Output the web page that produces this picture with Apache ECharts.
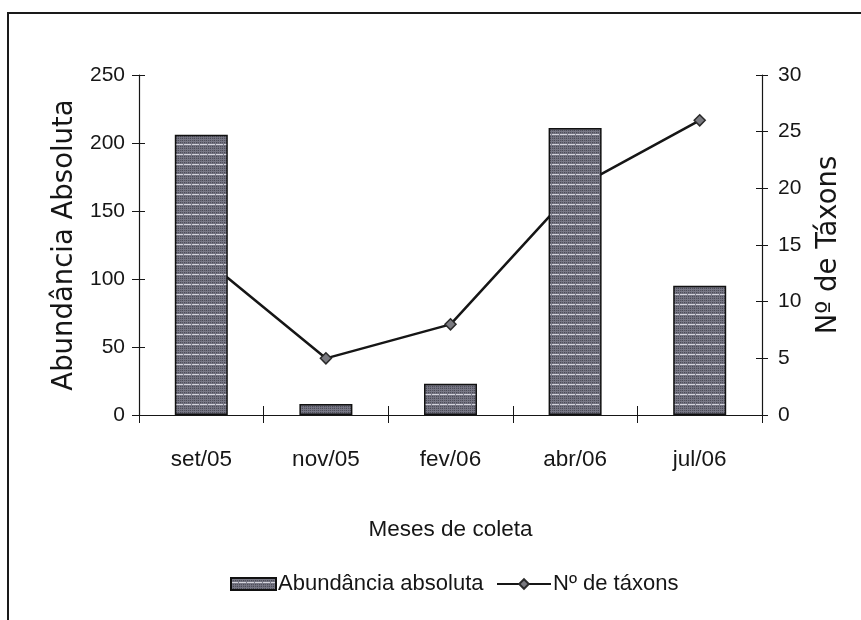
<!DOCTYPE html>
<html>
<head>
<meta charset="utf-8">
<script src="https://cdn.jsdelivr.net/npm/echarts@6/dist/echarts.min.js"></script>
<style>
  html, body { margin: 0; padding: 0; background: #fff; }
  #chart { width: 861px; height: 620px; }
</style>
</head>
<body>
<div id="chart"></div>
<script>
// Collection months
const months = ['set/05', 'nov/05', 'fev/06', 'abr/06', 'jul/06'];
// Absolute abundance per month (left axis)
const abundance = [206, 8, 23, 211, 95];
// Number of taxa per month (right axis)
const taxa = [14, 5, 8, 20, 26];
// Axis ticks
const leftTicks = { min: 0, max: 250, interval: 50 };
const rightTicks = { min: 0, max: 30, interval: 5 };

const sans = '"Liberation Sans", Arial, sans-serif';
const wide = '"DejaVu Sans", sans-serif';
const ink = '#161616';

// Striped grey texture for the bars
function makeTexture() {
  const c = document.createElement('canvas');
  c.width = 8; c.height = 10;
  const g = c.getContext('2d');
  g.fillStyle = '#5f5f6c';
  g.fillRect(0, 0, 8, 10);
  const shades = ['#53535e', '#777785', '#4a4a55', '#6c6c7a'];
  for (let y = 0; y < 10; y++) {
    for (let x = 0; x < 8; x++) {
      g.fillStyle = shades[(x * 3 + y * 5 + x * y) % 4];
      g.fillRect(x, y, 1, 1);
    }
  }
  g.fillStyle = '#d4d4dc';
  g.fillRect(0, 4, 7, 1);
  return c;
}
const texture = makeTexture();

const chart = echarts.init(document.getElementById('chart'), null, { renderer: 'canvas' });

const baseX = {
  type: 'category',
  data: months,
  boundaryGap: true,
  axisLine: { lineStyle: { color: ink, width: 1.2 } },
  splitLine: { show: false }
};

chart.setOption({
  backgroundColor: '#ffffff',
  animation: false,
  grid: { left: 139, right: 99, top: 75, bottom: 205 },
  graphic: [{
    type: 'rect',
    shape: { x: 8, y: 13, width: 900, height: 700 },
    style: { fill: 'none', stroke: '#1a1a1a', lineWidth: 2 },
    silent: true
  }],
  legend: [{
    left: 225, top: 568,
    itemWidth: 45, itemHeight: 12, itemGap: 6,
    data: [{ name: 'Abundância absoluta', icon: 'rect' }],
    textStyle: { fontFamily: sans, fontSize: 22, color: ink, padding: [0, 0, 0, -3] }
  }, {
    left: 491, top: 568,
    itemWidth: 54, itemHeight: 12, itemGap: 4,
    data: ['Nº de táxons'],
    textStyle: { fontFamily: sans, fontSize: 22, color: ink, padding: [0, 0, 0, -3] }
  }],
  xAxis: [Object.assign({}, baseX, {
    axisTick: { show: true, inside: false, length: 8, lineStyle: { color: ink } },
    axisLabel: { fontFamily: sans, fontSize: 22.5, color: ink, margin: 33 },
    name: 'Meses de coleta',
    nameLocation: 'middle',
    nameGap: 103,
    nameTextStyle: { fontFamily: sans, fontSize: 22.5, color: ink }
  }), Object.assign({}, baseX, {
    position: 'bottom',
    axisTick: { show: true, inside: true, length: 9, lineStyle: { color: ink } },
    axisLabel: { show: false }
  })],
  yAxis: [{
    type: 'value',
    min: leftTicks.min, max: leftTicks.max, interval: leftTicks.interval,
    position: 'left',
    axisLine: { show: true, lineStyle: { color: ink, width: 1.2 } },
    axisTick: { show: true, inside: false, length: 7, lineStyle: { color: ink } },
    splitLine: { show: false },
    axisLabel: { fontFamily: sans, fontSize: 21, color: ink, margin: 14 },
    name: 'Abundância Absoluta',
    nameLocation: 'middle',
    nameGap: 58,
    nameTextStyle: { fontFamily: wide, fontSize: 27.5, color: ink }
  }, {
    type: 'value',
    min: rightTicks.min, max: rightTicks.max, interval: rightTicks.interval,
    position: 'right',
    axisLine: { show: true, lineStyle: { color: ink, width: 1.2 } },
    axisTick: { show: true, inside: false, length: 6, lineStyle: { color: ink } },
    splitLine: { show: false },
    axisLabel: { fontFamily: sans, fontSize: 21, color: ink, margin: 16 },
    name: 'Nº de Táxons',
    nameLocation: 'middle',
    nameGap: 53,
    nameRotate: 90,
    nameTextStyle: { fontFamily: wide, fontSize: 27.5, color: ink }
  }, {
    type: 'value',
    min: leftTicks.min, max: leftTicks.max, interval: leftTicks.interval,
    position: 'left',
    axisLine: { show: false },
    axisTick: { show: true, inside: true, length: 6, lineStyle: { color: ink } },
    splitLine: { show: false },
    axisLabel: { show: false }
  }, {
    type: 'value',
    min: rightTicks.min, max: rightTicks.max, interval: rightTicks.interval,
    position: 'right',
    axisLine: { show: false },
    axisTick: { show: true, inside: true, length: 6, lineStyle: { color: ink } },
    splitLine: { show: false },
    axisLabel: { show: false }
  }],
  series: [{
    name: 'Nº de táxons',
    type: 'line',
    yAxisIndex: 1,
    data: taxa,
    z: 1,
    symbol: 'diamond',
    symbolSize: 11,
    lineStyle: { color: '#161616', width: 2.5 },
    itemStyle: { color: '#7a7a80', borderColor: '#2a2a2a', borderWidth: 1.5 }
  }, {
    name: 'Abundância absoluta',
    type: 'bar',
    yAxisIndex: 0,
    data: abundance,
    z: 3,
    barWidth: 53,
    itemStyle: {
      color: { image: texture, repeat: 'repeat' },
      borderColor: '#111',
      borderWidth: 1.5
    }
  }]
});
</script>
</body>
</html>
